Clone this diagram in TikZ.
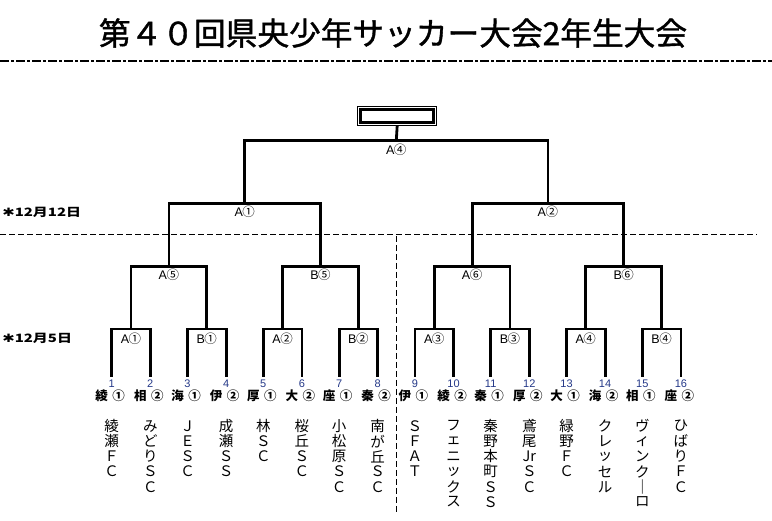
\documentclass[tikz,border=0pt]{standalone}
\usepackage{fontspec}
\setmainfont{Noto Sans CJK JP}
\newfontfamily\titlef[FakeBold=1.2]{Noto Sans CJK JP}
\newfontfamily\latf{Liberation Sans}
\newfontfamily\symf{DejaVu Sans}
\usetikzlibrary{calc}
\definecolor{numblue}{RGB}{35,55,135}
\tikzset{
  br/.style={line width=2.8pt, line join=miter},
  sepline/.style={line width=1.5pt, dash pattern=on 6pt off 3pt},
  titleline/.style={line width=2.6pt, dash pattern=on 9pt off 2pt on 3pt off 2pt},
  matchlab/.style={inner sep=0pt, font=\fontsize{12.5}{12.5}\selectfont},
  numsty/.style={inner sep=0pt, text=numblue, font=\latf\fontsize{11}{11}\selectfont},
  seedsty/.style={inner sep=0pt, font=\bfseries\fontsize{12.5}{12.5}\selectfont},
  namesty/.style={inner sep=0pt, font=\fontsize{14.5}{14.5}\selectfont},
  datesty/.style={inner sep=0pt, anchor=west, xscale=1.3, font=\bfseries\fontsize{11.5}{11.5}\selectfont},
}
\newcommand{\mlab}[2]{{\latf\fontsize{12.5}{12.5}\selectfont #1}\kern-0.5pt#2}
\begin{document}
\begin{tikzpicture}[x=1pt,y=-1pt]
\path[use as bounding box] (0,0) rectangle (772,521);
% title
\node[inner sep=0pt, font=\titlef\fontsize{31.7}{31.7}\selectfont] (title) at (393,33) {第４０回県央少年サッカー大会2年生大会};
\draw[titleline] (0,61) -- (772,61);
% date labels
\node[datesty] (d1) at (2,212) {{\symf ✱}12月12日};
\node[datesty] (d2) at (2,338) {{\symf ✱}12月5日};
% separators
\draw[sepline] (0,234.5) -- (757,234.5);
\draw[sepline] (396.7,236) -- (396.7,512);
% champion box
\node[draw, line width=1pt, minimum width=79pt, minimum height=18.6pt, inner sep=0pt] (champ) at (397.2,116) {};
\draw[line width=2.7pt] ($(champ.south west)+(3.6,-3.5)$) rectangle ($(champ.north east)+(-3.4,3.5)$);
% teams
\foreach \i in {1,...,16} {
  \pgfmathsetmacro\tx{111.7+75.8*floor((\i-1)/2)+38.6*mod(\i-1,2)}
  \coordinate (t\i) at (\tx,376.7);
  \node[numsty] (n\i) at (\tx,384) {\i};
}
% round 1
\foreach \k/\le/\cn in {1/A/①,2/B/①,3/A/②,4/B/②,5/A/③,6/B/③,7/A/④,8/B/④} {
  \pgfmathtruncatemacro\a{2*\k-1}
  \pgfmathtruncatemacro\b{2*\k}
  \pgfmathsetmacro\mx{111.7+75.8*(\k-1)+19.3}
  \coordinate (ra\k) at (\mx,329);
  \draw[br] (t\a) |- (ra\k) -| (t\b);
  \node[matchlab] (la\k) at ($(ra\k)+(0,9.5)$) {\mlab{\le}{\cn}};
}
% round 2
\foreach \k/\le/\cn in {1/A/⑤,2/B/⑤,3/A/⑥,4/B/⑥} {
  \pgfmathtruncatemacro\a{2*\k-1}
  \pgfmathtruncatemacro\b{2*\k}
  \coordinate (rb\k) at ($(ra\a)!0.5!(ra\b)+(0,-62.3)$);
  \draw[br] (ra\a) |- (rb\k) -| (ra\b);
  \node[matchlab] (lb\k) at ($(rb\k)+(0,8)$) {\mlab{\le}{\cn}};
}
% round 3
\foreach \k/\le/\cn in {1/A/①,2/A/②} {
  \pgfmathtruncatemacro\a{2*\k-1}
  \pgfmathtruncatemacro\b{2*\k}
  \coordinate (rc\k) at ($(rb\a)!0.5!(rb\b)+(0,-63.4)$);
  \draw[br] (rb\a) |- (rc\k) -| (rb\b);
  \node[matchlab] (lc\k) at ($(rc\k)+(0,8.5)$) {\mlab{\le}{\cn}};
}
% final
\coordinate (rd) at ($(rc1)!0.5!(rc2)+(0,-63)$);
\draw[br] (rc1) |- (rd) -| (rc2);
\draw[br] (rd) -- (champ.south);
\node[matchlab] (ld) at ($(rd)+(0,9)$) {\mlab{A}{④}};
% seeds
\foreach \i/\kj/\cn in {1/綾/①,2/相/②,3/海/①,4/伊/②,5/厚/①,6/大/②,7/座/①,8/秦/②,9/伊/①,10/綾/②,11/秦/①,12/厚/②,13/大/①,14/海/②,15/相/①,16/座/②} {
  \node[seedsty] (sk\i) at ($(t\i)+(-10,19)$) {\kj};
  \node[seedsty] (sc\i) at ($(t\i)+(7,19)$) {\cn};
}
% team names (vertical)
\foreach \i/\nm in {1/{綾,瀬,Ｆ,Ｃ},2/{み,ど,り,Ｓ,Ｃ},3/{Ｊ,Ｅ,Ｓ,Ｃ},4/{成,瀬,Ｓ,Ｓ},5/{林,Ｓ,Ｃ},6/{桜,丘,Ｓ,Ｃ},7/{小,松,原,Ｓ,Ｃ},8/{南,が,丘,Ｓ,Ｃ},9/{Ｓ,Ｆ,Ａ,Ｔ},10/{フ,ェ,ニ,ッ,ク,ス},11/{秦,野,本,町,Ｓ,Ｓ},12/{鳶,尾,Jr,Ｓ,Ｃ},13/{緑,野,Ｆ,Ｃ},14/{ク,レ,ッ,セ,ル},15/{ヴ,ィ,ン,ク,｜,ロ},16/{ひ,ば,り,Ｆ,Ｃ}} {
  \foreach \ch [count=\j] in \nm {
    \node[namesty] (nm\i-\j) at ($(t\i)+(0,49.3+15.2*\j-15.2)$) {\ch};
  }
}
\end{tikzpicture}
\end{document}
